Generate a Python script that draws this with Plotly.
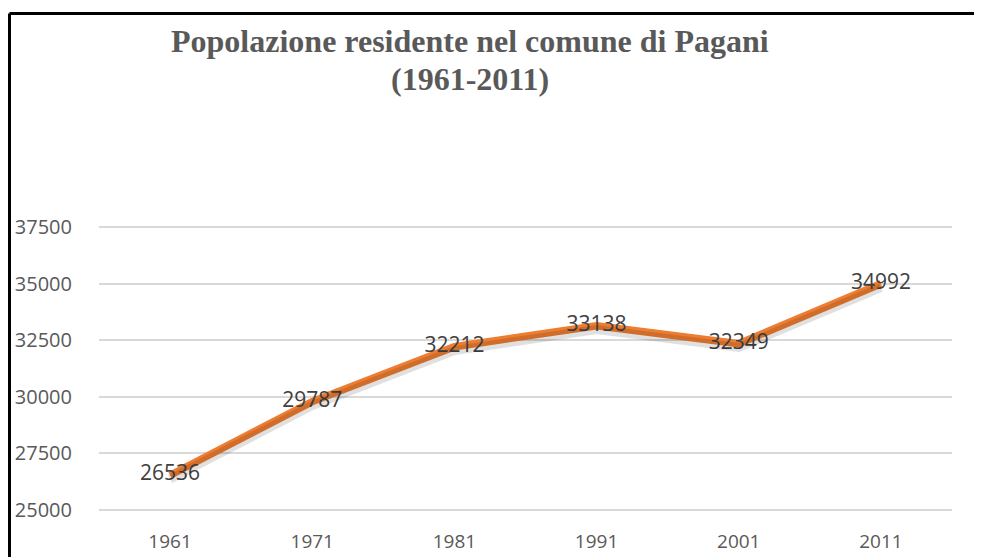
import plotly.graph_objects as go

# data
anni = ["1961", "1971", "1981", "1991", "2001", "2011"]
residenti = [26536, 29787, 32212, 33138, 32349, 34992]
y_ticks = [25000, 27500, 30000, 32500, 35000, 37500]
titolo = ["Popolazione residente nel comune di Pagani", "(1961-2011)"]

arancio = "#ED7D31"
grigio = "#595959"

# page body has an 8px margin, so the figure is 8px smaller and offset
PAD = 8
L, R, T, B = 99, 952, 225, 512   # plot area in page pixels
W, H = 982 - PAD, 557 - PAD
Y_MIN, Y_MAX = 24912, 37588       # a little room so edge gridlines are drawn


def px_x(x):
    return (x - L) / (R - L)


def px_y(y):
    return (B - y) / (B - T)


# soft shadow under the line, same data on a slightly shifted axis
shadow = go.Scatter(
    x=anni, y=residenti, mode="lines", yaxis="y2",
    line={"color": "rgba(0,0,0,0.12)", "width": 9},
    hoverinfo="skip", showlegend=False,
)

line = go.Scatter(
    x=anni, y=residenti, mode="lines+text",
    text=[str(v) for v in residenti], textposition="middle center",
    textfont={"family": "Open Sans, sans-serif", "size": 21, "color": "#404040"},
    line={"color": arancio, "width": 7.5},
    showlegend=False,
)

fig = go.Figure([shadow, line])

title_font = {"family": "Liberation Serif, Times New Roman, serif", "size": 32, "color": grigio}
tick_font = {"family": "Open Sans, sans-serif", "size": 20, "color": grigio}

fig.update_layout(
    width=W, height=H,
    paper_bgcolor="white", plot_bgcolor="white",
    margin={"l": L - PAD, "r": W - (R - PAD), "t": T - PAD, "b": H - (B - PAD), "autoexpand": False},
    xaxis={
        "type": "category", "range": [-0.5, 5.5], "automargin": False,
        "showgrid": False, "zeroline": False, "showline": False,
        "ticks": "", "ticklabelstandoff": 16,
        "tickfont": {**tick_font, "size": 19},
    },
    yaxis={
        "range": [Y_MIN, Y_MAX], "tickvals": y_ticks, "tickformat": "d",
        "automargin": False,
        "showgrid": True, "gridcolor": "#D9D9D9", "gridwidth": 2,
        "zeroline": False, "showline": False, "ticks": "",
        "ticklabelstandoff": 26,
        "tickfont": tick_font,
    },
    yaxis2={
        "range": [Y_MIN + 170, Y_MAX + 170], "overlaying": "y",
        "visible": False,
    },
    annotations=[
        {"text": "<b>%s</b>" % titolo[0], "xref": "paper", "yref": "paper",
         "x": px_x(470), "y": px_y(41), "xanchor": "center", "yanchor": "middle",
         "showarrow": False, "font": title_font},
        {"text": "<b>%s</b>" % titolo[1], "xref": "paper", "yref": "paper",
         "x": px_x(470), "y": px_y(79), "xanchor": "center", "yanchor": "middle",
         "showarrow": False, "font": title_font},
    ],
    shapes=[
        # frame of the original picture (only top and left edges visible)
        {"type": "line", "xref": "paper", "yref": "paper",
         "x0": px_x(9.5), "x1": 1.2, "y0": px_y(13.5), "y1": px_y(13.5),
         "line": {"color": "black", "width": 3}},
        {"type": "line", "xref": "paper", "yref": "paper",
         "x0": px_x(9.5), "x1": px_x(9.5), "y0": px_y(13.5), "y1": -0.3,
         "line": {"color": "black", "width": 3}},
    ],
)

# no scrollbars in the fixed 982x557 window
fig.write_html(
    "out.html",
    post_script="document.documentElement.style.overflow = 'hidden';"
                "document.body.style.overflow = 'hidden';",
)
